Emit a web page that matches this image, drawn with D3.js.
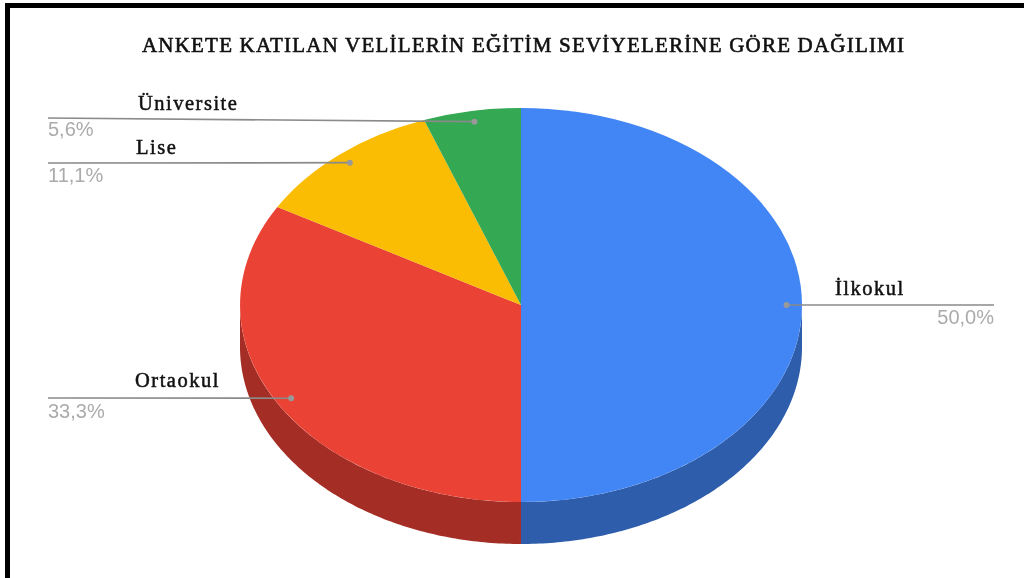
<!DOCTYPE html>
<html><head><meta charset="utf-8">
<script src="https://cdn.jsdelivr.net/npm/d3@7"></script>
<style>html,body{margin:0;padding:0;background:#fff}svg{display:block}</style></head>
<body><svg id="c" width="1024" height="578"></svg>
<script>
const title = "ANKETE KATILAN VELİLERİN EĞİTİM SEVİYELERİNE GÖRE DAĞILIMI";
const categories = ["İlkokul", "Ortaokul", "Lise", "Üniversite"];
const values = [50.0, 33.3, 11.1, 5.6];
const valueLabels = ["50,0%", "33,3%", "11,1%", "5,6%"];
const colors = ["#4285f4", "#ea4335", "#fbbc04", "#34a853"];
const sideColors = ["#2e5dab", "#a42e25", "#b08403", "#247539"];

const W = 1024, H = 578;
const cx = 521, cy = 305, rx = 281, ry = 197, depth = 42, dotR = 0.945;
const leftX = 48, rightX = 994;
// leader end heights and label anchors, in order of categories
const leaderEndY = [305, 398, 163, 118];
const nameX = [835, 135, 136, 138];
const nameY = [295, 387, 154, 110];
const valY = [324, 418, 182, 136];

const svg = d3.select("#c");
const root = svg.append("g").style("filter", "blur(0.55px)");
root.append("rect").attr("width", W).attr("height", H).attr("fill", "#fff");
root.append("path").attr("d", `M7.5,${H}V5.5H${W}`).attr("fill", "none").attr("stroke", "#000").attr("stroke-width", 5);

root.append("text").attr("x", 523).attr("y", 52).attr("text-anchor", "middle")
  .attr("font-family", "'Liberation Serif'").attr("font-size", 21).attr("font-weight", 400)
  .attr("fill", "#111").attr("stroke", "#111").attr("stroke-width", 0.6)
  .attr("textLength", 762).attr("lengthAdjust", "spacing").text(title);

const pieGen = d3.pie().sort(null).value(d => d);
const arcs = pieGen(values);
const px = d3.scaleLinear().domain([0, 1]).range([cx, cx + rx]);
const py = d3.scaleLinear().domain([0, 1]).range([cy, cy + ry]);

// side wall: visible front half only
const wall = d3.area()
  .x(a => px(Math.sin(a)))
  .y0(a => py(-Math.cos(a)))
  .y1(a => py(-Math.cos(a)) + depth);
arcs.forEach((d, i) => {
  const a0 = Math.max(d.startAngle, Math.PI / 2), a1 = Math.min(d.endAngle, 3 * Math.PI / 2);
  if (a1 <= a0) return;
  const n = 120, as = d3.range(n + 1).map(k => a0 + (a1 - a0) * k / n);
  root.append("path").attr("d", wall(as)).attr("fill", sideColors[i]);
});

// top face: unit arc scaled to the ellipse
const arcGen = d3.arc().innerRadius(0).outerRadius(1);
root.append("g").attr("transform", `translate(${cx},${cy}) scale(${rx},${ry})`)
  .selectAll("path").data(arcs).join("path")
  .attr("d", arcGen).attr("fill", (d, i) => colors[i]);

// leaders and labels
arcs.forEach((d, i) => {
  const mid = (d.startAngle + d.endAngle) / 2;
  const x = px(Math.sin(mid) * dotR), y = py(-Math.cos(mid) * dotR);
  const right = Math.sin(mid) > 0;
  root.append("line").attr("x1", x).attr("y1", y).attr("x2", right ? rightX : leftX).attr("y2", leaderEndY[i])
    .attr("stroke", "#8a8a8a").attr("stroke-width", 1.7);
  root.append("circle").attr("cx", x).attr("cy", y).attr("r", 3).attr("fill", "#999");
  root.append("text").attr("x", nameX[i]).attr("y", nameY[i])
    .attr("font-family", "'Liberation Serif'").attr("font-size", 20.5).attr("letter-spacing", 1.5)
    .attr("fill", "#111").attr("stroke", "#111").attr("stroke-width", 0.5).text(categories[i]);
  root.append("text").attr("x", right ? rightX : leftX).attr("y", valY[i])
    .attr("text-anchor", right ? "end" : "start")
    .attr("font-family", "'Liberation Sans'").attr("font-size", 20)
    .attr("fill", "#ababab").text(valueLabels[i]);
});
</script></body></html>
